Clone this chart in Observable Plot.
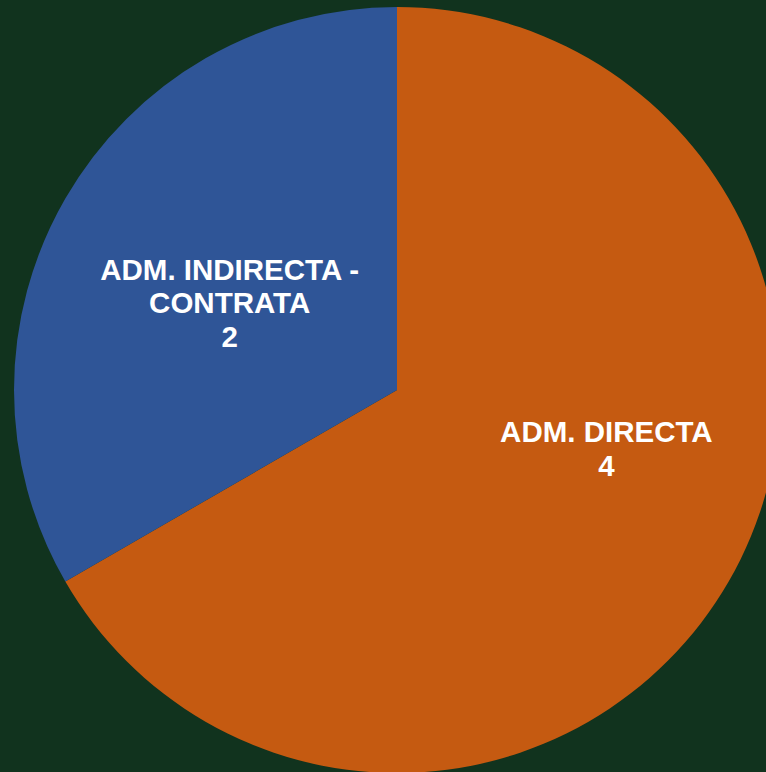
<!DOCTYPE html>
<html>
<head>
<meta charset="utf-8">
<script src="https://cdn.jsdelivr.net/npm/d3@7"></script>
<script src="https://cdn.jsdelivr.net/npm/@observablehq/plot@0.6"></script>
<style>
  html, body { margin: 0; padding: 0; background: #11331e; }
  #chart { width: 766px; height: 772px; overflow: hidden; }
</style>
</head>
<body>
<div id="chart"></div>
<script>
const categories = ["ADM. DIRECTA", "ADM. INDIRECTA - CONTRATA"];
const labelLines = ["ADM. DIRECTA", "ADM. INDIRECTA -\nCONTRATA"];
const values = [4, 2];
const colors = ["#c55a11", "#2f5597"];

const rows = categories.map((c, i) => ({name: c, label: labelLines[i], value: values[i], color: colors[i]}));
const arcs = d3.pie().sort(null).value(d => d.value)(rows);
const unitArc = d3.arc().innerRadius(0).outerRadius(1);
const labels = arcs.map(a => {
  const [cx, cy] = unitArc.centroid(a);
  return {x: cx, y: cy, text: a.data.label + "\n" + a.data.value, name: a.data.name};
});

function pieSlices(index, scales, values, dimensions) {
  const {x, y} = scales;
  const cx = x(0), cy = y(0), r = x(1) - x(0);
  const g = d3.create("svg:g").attr("transform", `translate(${cx},${cy})`);
  const arc = d3.arc().innerRadius(0).outerRadius(r);
  g.selectAll("path").data(arcs).join("path")
    .attr("d", arc)
    .attr("fill", d => d.data.color);
  return g.node();
}

const textStyle = {
  x: "x", y: "y", text: "text",
  fill: "white", fontSize: 29.5, fontWeight: "bold",
  fontFamily: "Liberation Sans, Arial, sans-serif",
  lineHeight: 1.13
};

const chart = Plot.plot({
  width: 766,
  height: 772,
  margin: 0,
  style: {background: "#11331e", overflow: "hidden"},
  x: {domain: [-1, 1], range: [14, 780], axis: null},
  y: {domain: [-1, 1], range: [7, 773], axis: null},
  marks: [
    pieSlices,
    Plot.text(labels.filter(d => d.name === "ADM. DIRECTA"), {...textStyle, dx: 43, dy: -38}),
    Plot.text(labels.filter(d => d.name !== "ADM. DIRECTA"), {...textStyle, dx: -2, dy: 8})
  ]
});
document.getElementById("chart").appendChild(chart);
</script>
</body>
</html>
